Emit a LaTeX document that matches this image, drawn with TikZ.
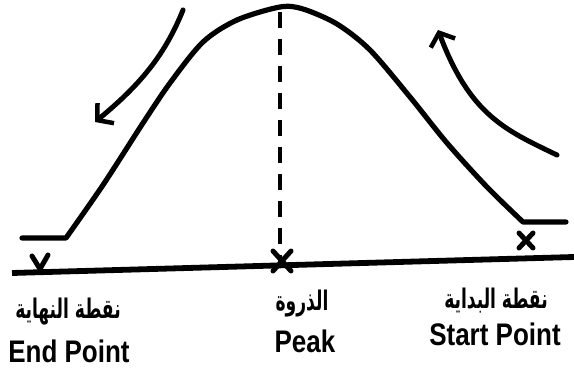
\documentclass[tikz,border=0pt]{standalone}
\usepackage{fontspec}
\usepackage{graphicx}
\setmainfont{Liberation Sans}
\newfontfamily\arabicfont[Script=Arabic]{DejaVu Sans}
\TeXXeTstate=1
\usetikzlibrary{arrows.meta}
\begin{document}
\begin{tikzpicture}[x=1pt,y=-1pt,
  curve/.style={line width=5.2pt, line join=round, line cap=round},
  baseline line/.style={line width=5.8pt},
  xmk/.style={line width=5pt, line cap=round},
  peakline/.style={line width=3.2pt, dash pattern=on 16pt off 11pt},
  hand/.style={line width=5pt, line cap=round, -{Straight Barb[length=11pt,width=26pt,line width=4.5pt]}},
  en/.style={font=\fontsize{26}{26}\selectfont\bfseries, inner sep=0pt},
  ar/.style={font=\arabicfont\fontsize{18}{18}\selectfont\bfseries, inner sep=0pt}]
\useasboundingbox (0,0) rectangle (574,369);
% base line
\coordinate (bl) at (12,273);
\coordinate (br) at (574,257);
\draw[baseline line] (bl) -- (br);
% curve
\coordinate (c0) at (22,238);
\coordinate (c1) at (66,238);
\coordinate (pk) at (280,5);
\coordinate (c2) at (523,222);
\coordinate (c3) at (566,222);
\draw[curve] (c0) -- (c1) -- plot[smooth, tension=0.5] coordinates {(66,238) (103,185) (143,123) (170,83) (203,42) (237,20) (280,7) (303,9) (337,24) (370,50) (410,97) (447,143) (487,187) (523,222)} -- (c3);
% peak dashed line
\coordinate (pt) at (280,12);
\coordinate (pb) at (280,262);
\draw[peakline] (pt) -- (pb);
% markers
\draw[xmk] (32,256) -- (40,269) -- (48,255);
\draw[xmk] (273,251) -- (291,271) (291,251) -- (273,271);
\draw[xmk] (519,233) -- (533,248) (533,233) -- (519,248);
% arrows
\coordinate (la0) at (183,10);
\coordinate (la1) at (95,122);
\draw[hand] (la0) .. controls (165,55) and (140,85) .. (la1);
\coordinate (ra0) at (557,155);
\coordinate (ra1) at (438,30);
\draw[hand] (ra0) .. controls (505,130) and (470,115) .. (ra1);
% labels
\node[ar] (arEnd) at (68,312) {\scalebox{0.95}[1.5]{\beginR نقطة النهاية\endR}};
\node[en] (enEnd) at (69,351) {\scalebox{1}[1.2]{End Point}};
\node[ar] (arPeak) at (302,304) {\scalebox{0.95}[1.5]{\beginR الذروة\endR}};
\node[en] (enPeak) at (305,341) {\scalebox{1}[1.2]{Peak}};
\node[ar] (arStart) at (496,301) {\scalebox{0.95}[1.5]{\beginR نقطة البداية\endR}};
\node[en] (enStart) at (495,334) {\scalebox{1}[1.2]{Start Point}};
\end{tikzpicture}
\end{document}
